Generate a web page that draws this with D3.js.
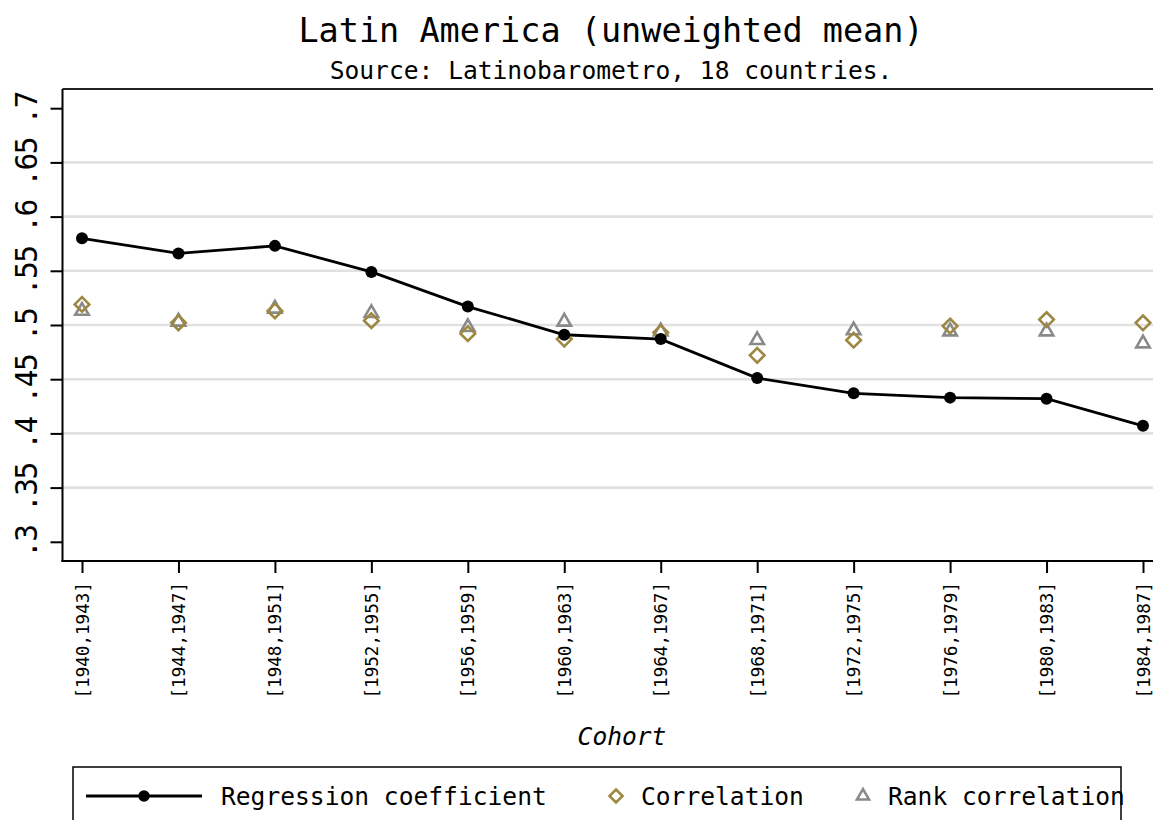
<!DOCTYPE html>
<html>
<head>
<meta charset="utf-8">
<script src="https://cdn.jsdelivr.net/npm/d3@7"></script>
<style>
  html, body { margin: 0; padding: 0; background: #fff; }
  svg { display: block; }
  text { font-family: "DejaVu Sans Mono", "Liberation Mono", monospace; fill: #000; }
</style>
</head>
<body>
<svg id="chart" width="1153" height="820"></svg>
<script>
const cohorts = ["[1940,1943]","[1944,1947]","[1948,1951]","[1952,1955]","[1956,1959]","[1960,1963]","[1964,1967]","[1968,1971]","[1972,1975]","[1976,1979]","[1980,1983]","[1984,1987]"];
const regression = [0.580, 0.566, 0.573, 0.549, 0.517, 0.491, 0.487, 0.451, 0.437, 0.433, 0.432, 0.407];
const correlation = [0.519, 0.502, 0.513, 0.504, 0.492, 0.487, 0.493, 0.472, 0.486, 0.499, 0.505, 0.502];
const rankCorrelation = [0.513, 0.503, 0.515, 0.511, 0.498, 0.503, 0.494, 0.486, 0.495, 0.494, 0.494, 0.483];
const yTicks = [0.3, 0.35, 0.4, 0.45, 0.5, 0.55, 0.6, 0.65, 0.7];
const yTickLabels = [".3", ".35", ".4", ".45", ".5", ".55", ".6", ".65", ".7"];
const titleText = "Latin America (unweighted mean)";
const subtitleText = "Source: Latinobarometro, 18 countries.";
const xTitle = "Cohort";
const legendLabels = ["Regression coefficient", "Correlation", "Rank correlation"];

const colCorr = "#9C8842";
const colRank = "#8A8A8A";

const svg = d3.select("#chart");
const plot = {left: 62.5, top: 89, right: 1163, bottom: 561};

const x = d3.scalePoint().domain(cohorts).range([82, 1143]);
const y = d3.scaleLinear().domain([0.3, 0.7]).range([541.8, 108.2]);

// title
svg.append("text").attr("x", 611).attr("y", 42).attr("text-anchor", "middle")
  .style("font-size", "33.5px").text(titleText);
svg.append("text").attr("x", 611).attr("y", 79).attr("text-anchor", "middle")
  .style("font-size", "24.6px").text(subtitleText);

// gridlines (not at extremes)
svg.append("g").selectAll("line").data(yTicks.filter(t => t > 0.3 + 1e-9 && t < 0.7 - 1e-9)).join("line")
  .attr("x1", plot.left).attr("x2", plot.right)
  .attr("y1", d => y(d)).attr("y2", d => y(d))
  .attr("stroke", "#E1E1E1").attr("stroke-width", 2.6);

// plot frame
svg.append("line").attr("x1", plot.left).attr("x2", plot.right).attr("y1", plot.top).attr("y2", plot.top)
  .attr("stroke", "#222").attr("stroke-width", 2);

// y axis
const yAxis = d3.axisLeft(y).tickValues(yTicks).tickSize(12).tickFormat("");
const gy = svg.append("g").attr("transform", `translate(${plot.left},0)`).call(yAxis);
gy.select(".domain").attr("stroke", "#000").attr("stroke-width", 2)
  .attr("d", `M0,${plot.top}V${plot.bottom + 1}`);
gy.selectAll(".tick line").attr("stroke", "#000").attr("stroke-width", 2);
svg.append("g").selectAll("text").data(yTicks).join("text")
  .attr("transform", d => `translate(37,${y(d)}) rotate(-90)`)
  .attr("text-anchor", "middle")
  .style("font-size", "29.5px")
  .style("letter-spacing", "-1.5px")
  .text((d, i) => yTickLabels[i]);

// x axis
const xAxis = d3.axisBottom(x).tickSize(12).tickFormat("");
const gx = svg.append("g").attr("transform", `translate(0,${plot.bottom})`).call(xAxis);
gx.select(".domain").attr("stroke", "#000").attr("stroke-width", 2)
  .attr("d", `M${plot.left - 1},0H${plot.right}`);
gx.selectAll(".tick line").attr("stroke", "#000").attr("stroke-width", 2);
svg.append("g").selectAll("text").data(cohorts).join("text")
  .attr("transform", d => `translate(${x(d) + 6.5},582) rotate(-90)`)
  .attr("text-anchor", "end")
  .style("font-size", "17.6px")
  .text(d => d);

svg.append("text").attr("x", 622).attr("y", 745).attr("text-anchor", "middle")
  .style("font-size", "24.6px").style("font-style", "italic").text(xTitle);

// regression line
const line = d3.line().x((d, i) => x(cohorts[i])).y(d => y(d));
svg.append("path").datum(regression).attr("d", line)
  .attr("fill", "none").attr("stroke", "#000").attr("stroke-width", 2.8);

const diamond = (cx, cy, w, h) => `M${cx},${cy - h}L${cx + w},${cy}L${cx},${cy + h}L${cx - w},${cy}Z`;
const triangle = (cx, cy, s) => {
  const h = s * 0.866;
  return `M${cx},${cy - h * 2 / 3}L${cx + s / 2},${cy + h / 3}L${cx - s / 2},${cy + h / 3}Z`;
};
svg.append("g").selectAll("path").data(rankCorrelation).join("path")
  .attr("d", (d, i) => triangle(x(cohorts[i]), y(d), 13.5))
  .attr("fill", "none").attr("stroke", colRank).attr("stroke-width", 2.6);
svg.append("g").selectAll("path").data(correlation).join("path")
  .attr("d", (d, i) => diamond(x(cohorts[i]), y(d), 7.3, 7.3))
  .attr("fill", "none").attr("stroke", colCorr).attr("stroke-width", 2.6);
svg.append("g").selectAll("circle").data(regression).join("circle")
  .attr("cx", (d, i) => x(cohorts[i])).attr("cy", d => y(d)).attr("r", 6).attr("fill", "#000");

// legend
const lg = svg.append("g");
lg.append("rect").attr("x", 73).attr("y", 767).attr("width", 1048).attr("height", 80)
  .attr("fill", "#fff").attr("stroke", "#000").attr("stroke-width", 1.5);
const ly = 796;
lg.append("line").attr("x1", 86).attr("x2", 202).attr("y1", ly).attr("y2", ly)
  .attr("stroke", "#000").attr("stroke-width", 2.8);
lg.append("circle").attr("cx", 144).attr("cy", ly).attr("r", 5.8).attr("fill", "#000");
lg.append("text").attr("x", 221).attr("y", ly + 9).style("font-size", "24.6px").text(legendLabels[0]);
lg.append("path").attr("d", diamond(616, ly, 6.5, 6.5)).attr("fill", "none").attr("stroke", colCorr).attr("stroke-width", 2.6);
lg.append("text").attr("x", 641).attr("y", ly + 9).style("font-size", "24.6px").text(legendLabels[1]);
lg.append("path").attr("d", triangle(863, ly, 12)).attr("fill", "none").attr("stroke", colRank).attr("stroke-width", 2.6);
lg.append("text").attr("x", 888).attr("y", ly + 9).style("font-size", "24.6px").text(legendLabels[2]);
</script>
</body>
</html>
